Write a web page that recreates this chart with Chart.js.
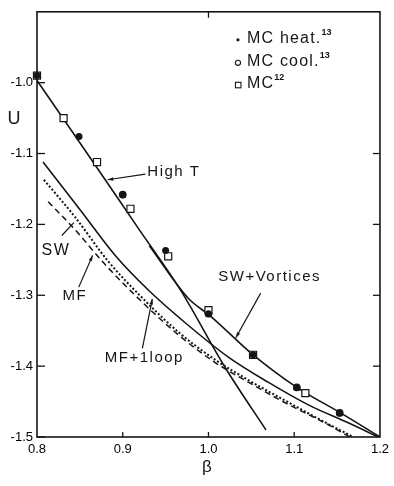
<!DOCTYPE html>
<html lang="en">
<head>
<meta charset="UTF-8">
<title>U vs beta</title>
<script src="https://cdn.jsdelivr.net/npm/chart.js"></script>
<style>
    html, body {
        margin: 0;
        padding: 0;
        background: #fff;
    }
    #wrap {
        width: 394px;
        height: 486px;
    }
</style>
</head>
<body>
<div id="wrap"><canvas id="chart"></canvas></div>
<script>
    // axis ticks
    const xTicks = [0.8, 0.9, 1.0, 1.1, 1.2];
    const yTicks = [-1.0, -1.1, -1.2, -1.3, -1.4, -1.5];

    // Monte Carlo points
    const heatBeta = [0.8, 0.849, 0.9, 0.95, 1.0, 1.052, 1.103, 1.153];
    const heatU = [-0.99, -1.076, -1.158, -1.237, -1.326, -1.384, -1.43, -1.466];
    const coolBeta = [0.8, 0.9, 1.0, 1.052, 1.103, 1.153];
    const coolU = [-0.99, -1.158, -1.326, -1.384, -1.43, -1.466];
    const mc12Beta = [0.8, 0.831, 0.87, 0.909, 0.953, 1.0, 1.052, 1.113];
    const mc12U = [-0.99, -1.05, -1.112, -1.178, -1.245, -1.321, -1.384, -1.438];

    // theory curves
    const highTBeta = [0.8, 0.87, 0.919, 0.966, 1.02, 1.067];
    const highTU = [-0.997, -1.12, -1.207, -1.29, -1.403, -1.49];
    const swvBeta = [0.931, 0.977, 1.002, 1.05, 1.103, 1.154, 1.2];
    const swvU = [-1.23, -1.305, -1.329, -1.382, -1.43, -1.466, -1.5];
    const mf1Beta = [0.807, 0.85, 0.892, 0.931, 0.977, 1.024, 1.07, 1.117, 1.163, 1.198];
    const mf1U = [-1.112, -1.179, -1.245, -1.294, -1.343, -1.388, -1.423, -1.455, -1.48, -1.5];
    const mfBeta = [0.808, 0.844, 0.883, 0.923, 0.966, 1.009, 1.047, 1.093, 1.134, 1.169];
    const mfU = [-1.137, -1.189, -1.252, -1.304, -1.353, -1.392, -1.42, -1.451, -1.478, -1.5];
    const swBeta = [0.813, 0.844, 0.879, 0.923, 0.966, 1.009, 1.047, 1.093, 1.134, 1.165];
    const swU = [-1.168, -1.207, -1.256, -1.31, -1.357, -1.396, -1.423, -1.454, -1.479, -1.5];

    const ink = '#151515';
    const font = '"Liberation Sans", Arial, sans-serif';

    function pts(xs, ys) {
        return xs.map((v, i) => ({ x: v, y: ys[i] }));
    }

    function curve(label, xs, ys, dash, width) {
        return {
            label: label,
            data: pts(xs, ys),
            showLine: true,
            borderColor: ink,
            borderWidth: width || 1.6,
            borderDash: dash || [],
            pointRadius: 0,
            cubicInterpolationMode: 'monotone',
            order: 5
        };
    }

    // frame, inward ticks, labels and legend
    const annotate = {
        id: 'annotate',
        afterDraw(chart) {
            const { ctx, chartArea: a, scales: { x, y } } = chart;
            const px = v => x.getPixelForValue(v);
            const py = v => y.getPixelForValue(v);
            const line = (x1, y1, x2, y2) => {
                ctx.beginPath(); ctx.moveTo(x1, y1); ctx.lineTo(x2, y2); ctx.stroke();
            };
            const arrow = (b1, u1, b2, u2) => {
                const x1 = px(b1), y1 = py(u1), x2 = px(b2), y2 = py(u2);
                line(x1, y1, x2, y2);
                const ang = Math.atan2(y2 - y1, x2 - x1);
                ctx.beginPath();
                ctx.moveTo(x2, y2);
                ctx.lineTo(x2 - 6 * Math.cos(ang - 0.3), y2 - 6 * Math.sin(ang - 0.3));
                ctx.lineTo(x2 - 6 * Math.cos(ang + 0.3), y2 - 6 * Math.sin(ang + 0.3));
                ctx.closePath();
                ctx.fill();
            };
            ctx.save();
            ctx.strokeStyle = ink;
            ctx.fillStyle = ink;
            ctx.lineWidth = 1.6;
            ctx.strokeRect(a.left, a.top, a.width, a.height);

            ctx.lineWidth = 1.3;
            yTicks.forEach(v => line(a.left, py(v), a.left + 8, py(v)));
            yTicks.slice(1, 5).forEach(v => line(a.right, py(v), a.right - 7, py(v)));
            xTicks.slice(1, 4).forEach(v => line(px(v), a.bottom, px(v), a.bottom - 5));
            line(px(1.0), a.top, px(1.0), a.top + 6);

            // curve labels
            ctx.font = '15px ' + font;
            ctx.letterSpacing = '1.5px';
            ctx.textBaseline = 'middle';
            ctx.textAlign = 'left';
            ctx.fillText('High T', px(0.9287), py(-1.126));
            ctx.textAlign = 'center';
            ctx.fillText('SW+Vortices', px(1.0713), py(-1.2745));
            ctx.fillText('MF+1loop', px(0.9252), py(-1.388));
            ctx.fillText('MF', px(0.8441), py(-1.301));
            ctx.font = '16px ' + font;
            ctx.fillText('SW', px(0.822), py(-1.2367));

            ctx.lineWidth = 1.2;
            arrow(0.9264, -1.129, 0.8823, -1.137);
            arrow(1.0609, -1.297, 1.0319, -1.36);
            arrow(0.9229, -1.375, 0.9345, -1.305);
            arrow(0.8487, -1.2885, 0.8649, -1.2437);
            line(px(0.829), py(-1.2157), px(0.843), py(-1.1975));

            // axis titles
            ctx.letterSpacing = '0px';
            ctx.font = '18px ' + font;
            ctx.fillText('U', a.left - 23, py(-1.052));
            ctx.font = '17px ' + font;
            ctx.fillText('\u03b2', px(0.998), a.bottom + 30);

            // legend
            const lx = a.right - 142;
            const rows = [a.top + 27, a.top + 50, a.top + 72];
            ctx.beginPath(); ctx.arc(lx, rows[0] + 1, 1.6, 0, 2 * Math.PI); ctx.fill();
            ctx.lineWidth = 1.1;
            ctx.beginPath(); ctx.arc(lx, rows[1] + 1, 2.6, 0, 2 * Math.PI); ctx.stroke();
            ctx.strokeRect(lx - 2.5, rows[2] - 1.5, 5.5, 5.5);
            ctx.textAlign = 'left';
            const names = ['MC heat.', 'MC cool.', 'MC'];
            const refs = ['13', '13', '12'];
            names.forEach((n, i) => {
                ctx.font = '16px ' + font;
                ctx.letterSpacing = '1.2px';
                ctx.fillText(n, lx + 9, rows[i]);
                const w = ctx.measureText(n).width;
                ctx.font = 'bold 9px ' + font;
                ctx.letterSpacing = '0px';
                ctx.fillText(refs[i], lx + 9 + w, rows[i] - 6);
            });
            ctx.restore();
        }
    };

    new Chart(document.getElementById('chart'), {
        type: 'scatter',
        data: {
            datasets: [
                {
                    label: 'MC heat.',
                    data: pts(heatBeta, heatU),
                    pointStyle: 'circle',
                    pointRadius: 3.5,
                    backgroundColor: ink,
                    borderColor: ink,
                    borderWidth: 0,
                    clip: false,
                    order: 1
                },
                {
                    label: 'MC cool.',
                    data: pts(coolBeta, coolU),
                    pointStyle: 'circle',
                    pointRadius: 3.3,
                    backgroundColor: '#fff',
                    borderColor: ink,
                    borderWidth: 1.1,
                    clip: false,
                    order: 3
                },
                {
                    label: 'MC12',
                    data: pts(mc12Beta, mc12U),
                    pointStyle: 'rect',
                    pointRadius: 5,
                    backgroundColor: '#fff',
                    borderColor: ink,
                    borderWidth: 1.2,
                    clip: false,
                    order: 2
                },
                curve('High T', highTBeta, highTU),
                curve('SW+Vortices', swvBeta, swvU),
                curve('MF+1loop', mf1Beta, mf1U),
                curve('MF', mfBeta, mfU, [2, 2], 2),
                curve('SW', swBeta, swU, [6, 4], 1.5)
            ]
        },
        options: {
            responsive: true,
            maintainAspectRatio: false,
            animation: false,
            layout: { padding: { left: 0, right: 12, top: 9, bottom: 0 } },
            plugins: {
                legend: { display: false },
                tooltip: { enabled: false }
            },
            scales: {
                x: {
                    type: 'linear',
                    min: 0.8,
                    max: 1.2,
                    afterFit: s => { s.height = 49; },
                    afterBuildTicks: s => { s.ticks = xTicks.map(v => ({ value: v })); },
                    grid: { display: false, drawTicks: false },
                    border: { display: false },
                    ticks: {
                        padding: 5,
                        color: '#000',
                        font: { family: font, size: 13 },
                        callback: v => v.toFixed(1)
                    }
                },
                y: {
                    type: 'linear',
                    min: -1.5,
                    max: -0.9,
                    afterFit: s => { s.width = 37; },
                    afterBuildTicks: s => { s.ticks = yTicks.map(v => ({ value: v })); },
                    grid: { display: false, drawTicks: false },
                    border: { display: false },
                    ticks: {
                        padding: 4,
                        color: '#000',
                        font: { family: font, size: 13 },
                        callback: v => v.toFixed(1)
                    }
                }
            }
        },
        plugins: [annotate]
    });
</script>
</body>
</html>
